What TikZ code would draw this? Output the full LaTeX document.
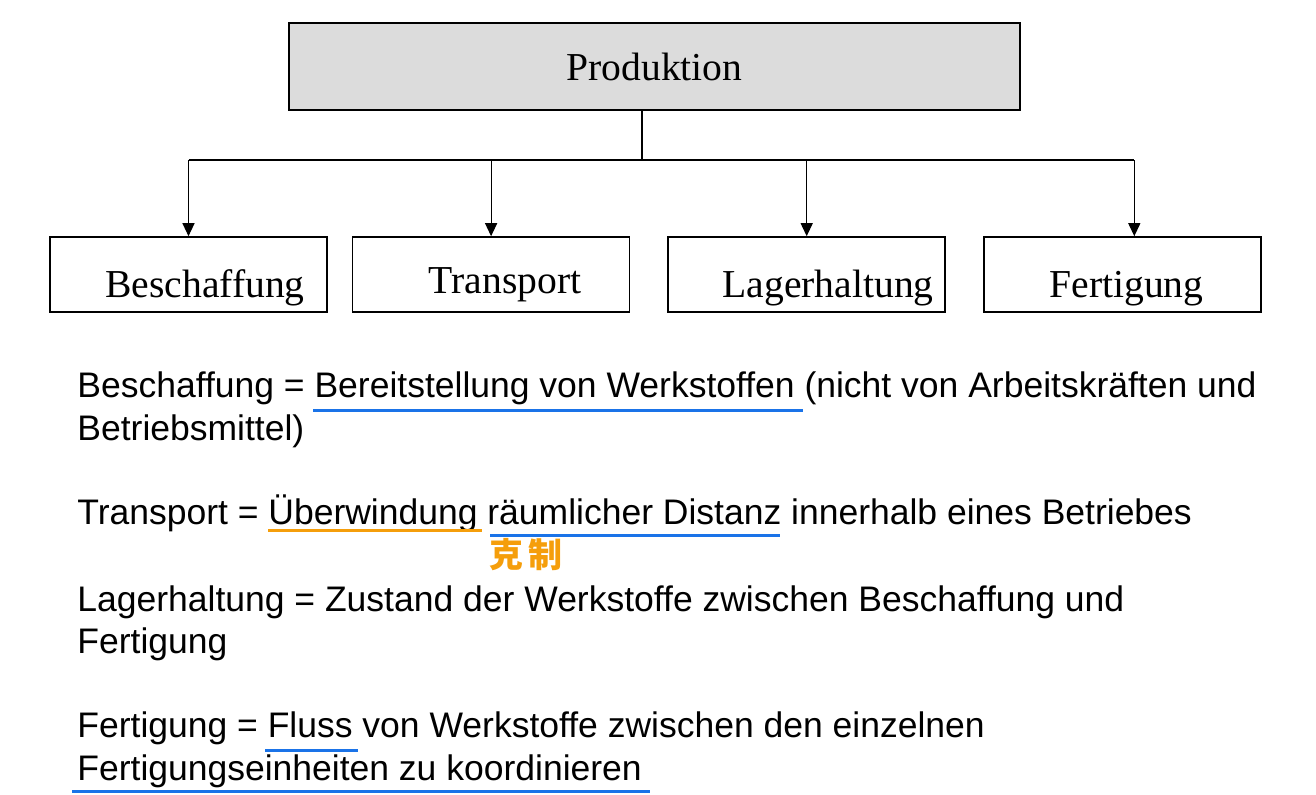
\documentclass[tikz,border=0pt]{standalone}
\usepackage{fontspec}
\setmainfont{Liberation Serif}
\setsansfont{Liberation Sans}
\newfontfamily\cjkfont{Noto Sans CJK SC}
\usetikzlibrary{positioning, arrows.meta}

\definecolor{boxgray}{RGB}{220,220,220}
\definecolor{noteblue}{RGB}{26,115,232}
\definecolor{noteorange}{RGB}{245,158,11}

\begin{document}
\begin{tikzpicture}[
        x=0.5pt, y=-0.5pt,
        node distance=18.5pt,
        topbox/.style={rectangle, draw, line width=0.8pt, fill=boxgray, minimum width=365.5pt, minimum height=43.5pt, font=\fontsize{19.8}{24}\selectfont},
        areabox/.style={rectangle, draw, line width=0.8pt, minimum width=138.5pt, minimum height=37.5pt},
        arealabel/.style={anchor=base, inner sep=0pt, font=\fontsize{19.8}{24}\selectfont},
        defline/.style={anchor=base west, inner sep=0pt, font=\sffamily\fontsize{17.75}{21}\selectfont},
        link/.style={line width=0.6pt},
        arrow/.style={line width=0.6pt, -{Triangle[length=6.5pt, width=6pt]}},
        blueline/.style={noteblue, line width=1.5pt},
        orangeline/.style={noteorange, line width=1.5pt}
    ]
    \useasboundingbox (0,0) rectangle (1316,794);

    % tree
    \node[topbox] (produktion) at (654.5,66.5) {Produktion};
    \node[areabox] (beschaffung) at (188.5,274.5) {};
    \node[areabox, right=12pt of beschaffung] (transport) {};
    \node[areabox, right=of transport] (lagerhaltung) {};
    \node[areabox, right=of lagerhaltung] (fertigung) {};

    \node[arealabel] (beschaffunglabel) at (205,297) {Beschaffung};
    \node[arealabel] (transportlabel) at (505,293) {Transport};
    \node[arealabel] (lagerhaltunglabel) at (828,297) {Lagerhaltung};
    \node[arealabel] (fertigunglabel) at (1126.5,297) {Fertigung};

    \coordinate (branch) at (642,160);
    \draw[link] (produktion.south -| branch) -- (branch);
    \draw[link] (beschaffung.north |- branch) -- ([xshift=6pt]fertigung.north |- branch);
    \draw[arrow] (beschaffung.north |- branch) -- (beschaffung.north);
    \draw[arrow] (transport.north |- branch) -- (transport.north);
    \draw[arrow] (lagerhaltung.north |- branch) -- (lagerhaltung.north);
    \draw[arrow] ([xshift=6pt]fertigung.north |- branch) -- ([xshift=6pt]fertigung.north);

    % definitions
    \node[defline] (def1a) at (77,397) {Beschaffung = Bereitstellung von Werkstoffen (nicht von Arbeitskräften und};
    \node[defline] (def1b) at (77,440) {Betriebsmittel)};
    \node[defline] (def2) at (77,524) {Transport = Überwindung räumlicher Distanz innerhalb eines Betriebes};
    \node[defline] (def3a) at (77,611) {Lagerhaltung = Zustand der Werkstoffe zwischen Beschaffung und};
    \node[defline] (def3b) at (77,653) {Fertigung};
    \node[defline] (def4a) at (77,737) {Fertigung = Fluss von Werkstoffe zwischen den einzelnen};
    \node[defline] (def4b) at (77,780) {Fertigungseinheiten zu koordinieren};

    % handwritten marks
    \draw[blueline] (313,410) -- (803,410);
    \draw[orangeline] (268,530) -- (482,530);
    \draw[blueline] (490,535) -- (780,535);
    \draw[blueline] (265,750) -- (358,750);
    \draw[blueline] (72,791) -- (650,791);
    \node[noteorange, inner sep=0pt, font=\cjkfont\bfseries\fontsize{17}{19}\selectfont] (kezhi) at (526,555) {克\,制};
\end{tikzpicture}
\end{document}
